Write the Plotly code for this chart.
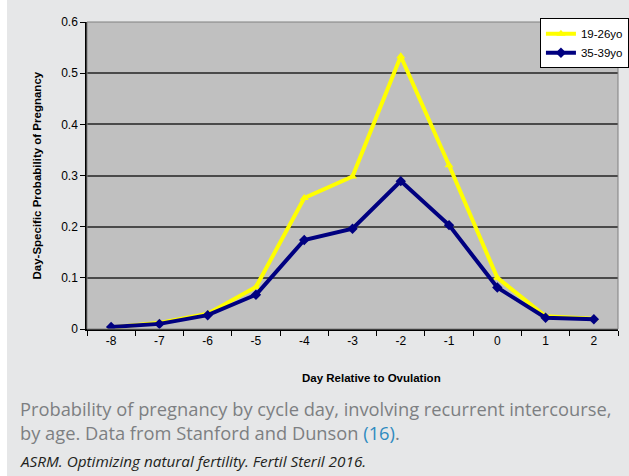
import plotly.graph_objects as go

days = ["-8", "-7", "-6", "-5", "-4", "-3", "-2", "-1", "0", "1", "2"]
young = [0.003, 0.012, 0.030, 0.082, 0.256, 0.298, 0.533, 0.320, 0.100, 0.025, 0.020]
older = [0.004, 0.010, 0.027, 0.067, 0.174, 0.196, 0.289, 0.203, 0.081, 0.022, 0.019]
y_ticks = [0, 0.1, 0.2, 0.3, 0.4, 0.5, 0.6]
y_tick_text = ["0", "0.1", "0.2", "0.3", "0.4", "0.5", "0.6"]

fig = go.Figure()
fig.add_trace(go.Scatter(
    x=days, y=young, name="19-26yo", mode="lines+markers",
    line=dict(color="#ffff00", width=4),
    marker=dict(symbol="triangle-up", size=8, color="#ffff00"),
))
fig.add_trace(go.Scatter(
    x=days, y=older, name="35-39yo", mode="lines+markers",
    line=dict(color="#000080", width=4),
    marker=dict(symbol="diamond", size=8, color="#000080"),
))

fig.update_layout(
    width=629, height=476,
    margin=dict(l=87, r=11, t=22, b=147, autoexpand=False),
    paper_bgcolor="#e6e7e8",
    plot_bgcolor="#c0c0c0",
    font=dict(family="Arial, Liberation Sans", size=12, color="#000"),
    showlegend=True,
    legend=dict(
        x=0.853, y=1.012, xanchor="left", yanchor="top",
        bgcolor="#ffffff", bordercolor="#000000", borderwidth=1,
        font=dict(family="Arial, Liberation Sans", size=11.5, color="#000"),
        itemwidth=30, tracegroupgap=0,
    ),
    shapes=[
        dict(type="rect", xref="paper", yref="paper", x0=-0.2, x1=1.1, y0=1.0717, y1=1.2,
             fillcolor="#ffffff", line=dict(width=0), layer="below"),
        dict(type="rect", xref="paper", yref="paper", x0=-0.2, x1=-0.1507, y0=-0.6, y1=1.2,
             fillcolor="#ffffff", line=dict(width=0), layer="below"),
        dict(type="rect", xref="paper", yref="paper", x0=0, x1=1, y0=0, y1=1,
             fillcolor="rgba(0,0,0,0)", line=dict(color="#808080", width=1), layer="above"),
    ],
    annotations=[
        dict(text="<b>Day-Specific Probability of Pregnancy</b>", xref="paper", yref="paper",
             x=-0.096, y=0.5, xanchor="center", yanchor="middle", textangle=-90,
             showarrow=False, font=dict(family="Arial, Liberation Sans", size=11.5, color="#000")),
        dict(text="<b>Day Relative to Ovulation</b>", xref="paper", yref="paper",
             x=0.535, y=-0.158, xanchor="center", yanchor="middle",
             showarrow=False, font=dict(family="Arial, Liberation Sans", size=11.5, color="#000")),
        dict(text="Probability of pregnancy by cycle day, involving recurrent intercourse,<br>"
                  "by age. Data from Stanford and Dunson <span style='color:#2e8bc0'>(16)</span>.",
             xref="paper", yref="paper", x=-0.130, y=-0.212, xanchor="left", yanchor="top",
             align="left", showarrow=False,
             font=dict(family="Open Sans", size=18.3, color="#7d7f82")),
        dict(text="<i>ASRM. Optimizing natural fertility. Fertil Steril 2016.</i>",
             xref="paper", yref="paper", x=-0.130, y=-0.430, xanchor="left", yanchor="middle",
             align="left", showarrow=False,
             font=dict(family="Open Sans", size=15.3, color="#231f20")),
    ],
)

fig.update_xaxes(
    type="category", range=[-0.5, 10.5], tickson="boundaries",
    ticks="outside", ticklen=5, tickcolor="#000", tickwidth=1,
    showline=True, linecolor="#000", linewidth=1.5,
    showgrid=False, zeroline=False,
    tickfont=dict(size=12, color="#000"),
)
fig.update_yaxes(
    range=[0, 0.6], tickvals=y_ticks, ticktext=y_tick_text,
    ticks="outside", ticklen=5, tickcolor="#000", tickwidth=1,
    showline=True, linecolor="#000", linewidth=1.5,
    showgrid=True, gridcolor="#4a4a4a", gridwidth=1.5, zeroline=False,
    tickfont=dict(size=12, color="#000"), ticklabelstandoff=0,
)

fig.write_html(
    "out.html",
    config={"displayModeBar": False},
    post_script="document.body.style.margin='0';document.body.style.overflow='hidden';",
)
